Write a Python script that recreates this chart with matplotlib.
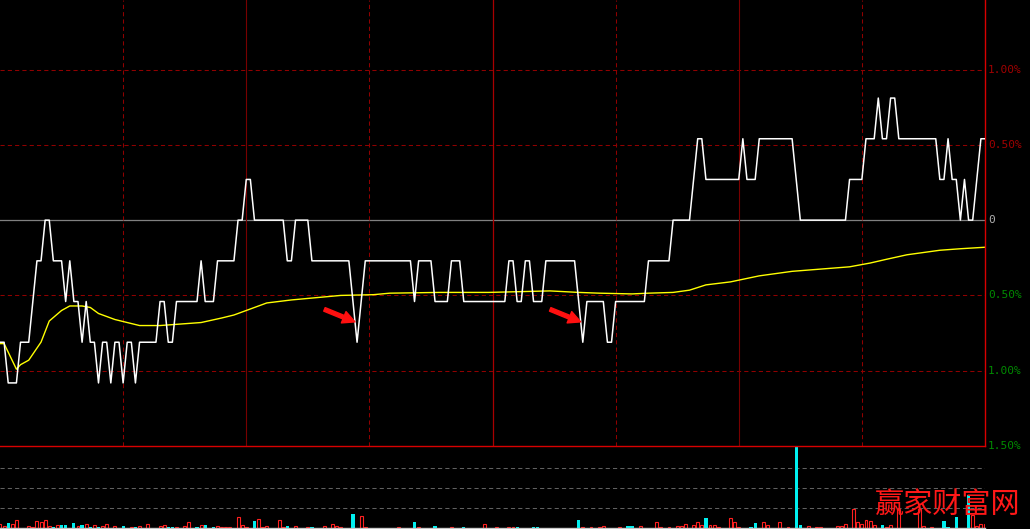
import numpy as np
import matplotlib
matplotlib.use("Agg")
import matplotlib.pyplot as plt
from matplotlib.transforms import blended_transform_factory

# previous close and one price per minute (9:30-11:30, 13:00-15:00)
prev_close = 3.70
prices = [
    3.67, 3.67, 3.66, 3.66, 3.66, 3.67, 3.67, 3.67, 3.68, 3.69,
    3.69, 3.70, 3.70, 3.69, 3.69, 3.69, 3.68, 3.69, 3.68, 3.68,
    3.67, 3.68, 3.67, 3.67, 3.66, 3.67, 3.67, 3.66, 3.67, 3.67,
    3.66, 3.67, 3.67, 3.66, 3.67, 3.67, 3.67, 3.67, 3.67, 3.68,
    3.68, 3.67, 3.67, 3.68, 3.68, 3.68, 3.68, 3.68, 3.68, 3.69,
    3.68, 3.68, 3.68, 3.69, 3.69, 3.69, 3.69, 3.69, 3.70, 3.70,
    3.71, 3.71, 3.70, 3.70, 3.70, 3.70, 3.70, 3.70, 3.70, 3.70,
    3.69, 3.69, 3.70, 3.70, 3.70, 3.70, 3.69, 3.69, 3.69, 3.69,
    3.69, 3.69, 3.69, 3.69, 3.69, 3.69, 3.68, 3.67, 3.68, 3.69,
    3.69, 3.69, 3.69, 3.69, 3.69, 3.69, 3.69, 3.69, 3.69, 3.69,
    3.69, 3.68, 3.69, 3.69, 3.69, 3.69, 3.68, 3.68, 3.68, 3.68,
    3.69, 3.69, 3.69, 3.68, 3.68, 3.68, 3.68, 3.68, 3.68, 3.68,
    3.68, 3.68, 3.68, 3.68, 3.69, 3.69, 3.68, 3.68, 3.69, 3.69,
    3.68, 3.68, 3.68, 3.69, 3.69, 3.69, 3.69, 3.69, 3.69, 3.69,
    3.69, 3.68, 3.67, 3.68, 3.68, 3.68, 3.68, 3.68, 3.67, 3.67,
    3.68, 3.68, 3.68, 3.68, 3.68, 3.68, 3.68, 3.68, 3.69, 3.69,
    3.69, 3.69, 3.69, 3.69, 3.70, 3.70, 3.70, 3.70, 3.70, 3.71,
    3.72, 3.72, 3.71, 3.71, 3.71, 3.71, 3.71, 3.71, 3.71, 3.71,
    3.71, 3.72, 3.71, 3.71, 3.71, 3.72, 3.72, 3.72, 3.72, 3.72,
    3.72, 3.72, 3.72, 3.72, 3.71, 3.70, 3.70, 3.70, 3.70, 3.70,
    3.70, 3.70, 3.70, 3.70, 3.70, 3.70, 3.70, 3.71, 3.71, 3.71,
    3.71, 3.72, 3.72, 3.72, 3.73, 3.72, 3.72, 3.73, 3.73, 3.72,
    3.72, 3.72, 3.72, 3.72, 3.72, 3.72, 3.72, 3.72, 3.72, 3.71,
    3.71, 3.72, 3.71, 3.71, 3.70, 3.71, 3.70, 3.70, 3.71, 3.72, 3.72,
]

# average price line (percent vs previous close), read at some minutes
avg_minutes = [0, 1, 4, 5, 7, 10, 12, 15, 17, 20, 22, 24, 28, 31, 34, 39, 44, 49, 54, 57,
               61, 65, 71, 75, 79, 83, 91, 95, 107, 119, 134, 141, 146, 154, 158, 164, 168,
               172, 178, 185, 193, 200, 207, 212, 216, 221, 229, 234, 240]
avg_pct = [-0.82, -0.82, -0.99, -0.96, -0.93, -0.81, -0.67, -0.60, -0.57, -0.57, -0.58,
           -0.62, -0.66, -0.68, -0.70, -0.70, -0.69, -0.68, -0.65, -0.63, -0.59, -0.55,
           -0.53, -0.52, -0.51, -0.50, -0.495, -0.485, -0.48, -0.48, -0.47, -0.48, -0.485,
           -0.49, -0.485, -0.48, -0.465, -0.43, -0.41, -0.37, -0.34, -0.325, -0.31, -0.285,
           -0.26, -0.23, -0.20, -0.19, -0.18]

# volume per minute (only minutes with a visible bar), 1 = up bar, 0 = down bar
vol_minutes = [0, 1, 2, 3, 4, 7, 8, 9, 10, 11, 12, 13, 14, 15, 16, 18, 19, 20, 21, 22, 23, 24,
               25, 26, 28, 30, 32, 33, 34, 36, 39, 40, 41, 42, 43, 45, 46, 48, 49, 50, 52, 53,
               54, 55, 56, 58, 59, 60, 62, 63, 64, 65, 68, 69, 70, 72, 75, 76, 79, 81, 82, 83,
               86, 88, 89, 97, 101, 102, 106, 110, 113, 118, 121, 124, 125, 126, 130, 131,
               141, 142, 144, 146, 147, 151, 153, 154, 156, 160, 161, 163, 165, 166, 167, 169,
               170, 171, 172, 173, 174, 175, 178, 179, 180, 183, 184, 186, 187, 190, 192, 194,
               195, 197, 199, 200, 204, 205, 206, 208, 209, 210, 211, 212, 213, 215, 216, 217,
               219, 224, 225, 227, 230, 231, 233, 236, 237, 238, 239, 240]
vol_values = [3.7, 2, 5.3, 4, 8, 2, 1, 7.3, 6.3, 8.3, 2, 1, 3, 3, 3, 5, 2, 3, 4, 1, 3, 1,
              2, 4, 2, 2, 1, 1, 2, 4, 2, 3, 1, 1, 1, 2, 6, 1, 3, 3, 1, 2,
              1, 1, 1, 11, 3, 1, 7, 9, 1, 2, 8, 1, 2, 2, 1, 1, 2, 4, 2, 1,
              14, 12, 1, 1, 6, 1, 2, 1, 1, 4, 1, 1, 1, 1, 1, 1,
              8, 1, 1, 1, 2, 1, 2, 2, 2, 6, 1, 1, 2, 2, 4, 3,
              6, 3, 10, 3, 3, 1, 10, 6, 1, 1, 5, 6, 3, 6, 1, 82,
              3, 2, 1, 1, 2, 2, 4, 19, 6, 4, 8, 7, 3, 3, 1, 3,
              19, 19, 2, 1, 7, 1, 11, 33, 13, 2, 4, 4]
vol_up = [1, 1, 0, 1, 1, 1, 1, 1, 1, 1, 1, 0, 1, 0, 0, 0, 1, 0, 1, 0, 1, 0,
          1, 1, 1, 0, 1, 0, 1, 1, 1, 1, 0, 0, 1, 1, 1, 0, 1, 0, 0, 1,
          1, 1, 1, 1, 1, 1, 0, 1, 1, 1, 1, 1, 0, 1, 1, 0, 1, 1, 1, 1,
          0, 1, 1, 1, 0, 1, 0, 1, 0, 1, 1, 1, 1, 0, 0, 0,
          0, 1, 1, 1, 1, 1, 0, 0, 1, 1, 1, 1, 1, 1, 1, 1,
          1, 1, 0, 1, 1, 1, 1, 1, 1, 0, 0, 1, 1, 1, 1, 0,
          0, 1, 1, 1, 1, 1, 1, 1, 1, 1, 1, 1, 1, 0, 1, 1,
          1, 1, 1, 1, 0, 0, 0, 0, 1, 1, 1, 1]

axis_levels = [1.0, 0.5, 0.0, -0.5, -1.0, -1.5]
axis_labels = ["1.00%", "0.50%", "0", "0.50%", "1.00%", "1.50%"]
arrow_minutes = [86, 141]

W, H = 1030, 529
DARK_RED = "#900000"
BORDER_RED = "#d80000"

pct = (np.array(prices) / prev_close - 1) * 100
minutes = np.arange(len(prices))

fig = plt.figure(figsize=(W / 100, H / 100), dpi=100, facecolor="black")

# volume panel (drawn first so the price panel border sits on top)
axv = fig.add_axes([0, 1 / H, 985 / W, 82 / H])
axv.patch.set_visible(False)
axv.set_xlim(0, 240)
axv.set_ylim(0, 82)
for lvl in [20, 40, 60]:
    axv.axhline(lvl, color="#606060", lw=0.75, ls=(0, (4, 3)), zorder=1)
vm = np.array(vol_minutes)
vv = np.array(vol_values)
up = np.array(vol_up) == 1
axv.bar(vm[up], vv[up], width=0.72, facecolor="none", edgecolor="#ff2020", lw=0.8, zorder=2)
axv.bar(vm[~up], vv[~up], width=0.78, color="#00f0f0", lw=0, zorder=2)
axv.set_xticks([])
axv.set_yticks([])
for side in ["top", "left", "right"]:
    axv.spines[side].set_visible(False)
axv.spines["bottom"].set_color("#c8c8c8")
axv.spines["bottom"].set_linewidth(1.0)

# price panel
ax = fig.add_axes([0, 83 / H, 985 / W, 446 / H])
ax.patch.set_visible(False)
ax.set_xlim(0, 240)
ax.set_ylim(-1.5, 1.462)
for lvl in [1.0, 0.5, -0.5, -1.0]:
    ax.axhline(lvl, color=DARK_RED, lw=0.75, ls=(0, (4, 3)), zorder=1)
ax.axhline(0, color="#808080", lw=0.9, zorder=1)
for m in [30, 90, 150, 210]:
    ax.axvline(m, color=DARK_RED, lw=0.75, ls=(0, (4, 3)), zorder=1)
for m in [60, 180]:
    ax.axvline(m, color="#780000", lw=0.8, zorder=1)
ax.axvline(120, color="#a80000", lw=0.9, zorder=1)

ax.plot(minutes, pct, color="white", lw=1.1, zorder=3)
ax.plot(avg_minutes, avg_pct, color="#ffff00", lw=1.0, zorder=2)

for m in arrow_minutes:
    tip = (m + 0.5, (pct[m] + pct[m + 1]) / 2)
    ax.annotate("", xy=tip, xytext=(-22, 9), textcoords="offset points",
                arrowprops=dict(arrowstyle="simple,head_length=0.8,head_width=0.8,tail_width=0.25",
                                color="#ff1010", mutation_scale=11, shrinkA=0, shrinkB=0),
                zorder=4)

trans = blended_transform_factory(ax.transAxes, ax.transData)
for lvl, lab in zip(axis_levels, axis_labels):
    if lvl > 0:
        c = "#a00000"
    elif lvl < 0:
        c = "#008a00"
    else:
        c = "#b0b0b0"
    ax.text(1 + 3 / 985, lvl, lab, transform=trans, color=c, fontsize=8,
            family="DejaVu Sans Mono", va="center", ha="left")

ax.set_xticks([])
ax.set_yticks([])
for side in ["top", "left"]:
    ax.spines[side].set_visible(False)
for side in ["right", "bottom"]:
    ax.spines[side].set_color(BORDER_RED)
    ax.spines[side].set_linewidth(1.0)

fig.text(875 / W, 24 / H, "赢家财富网", color="#ff1818", fontsize=21,
         family=["Noto Sans CJK SC", "DejaVu Sans"], va="center", ha="left")

fig.savefig("out.png", dpi=100, facecolor="black")
